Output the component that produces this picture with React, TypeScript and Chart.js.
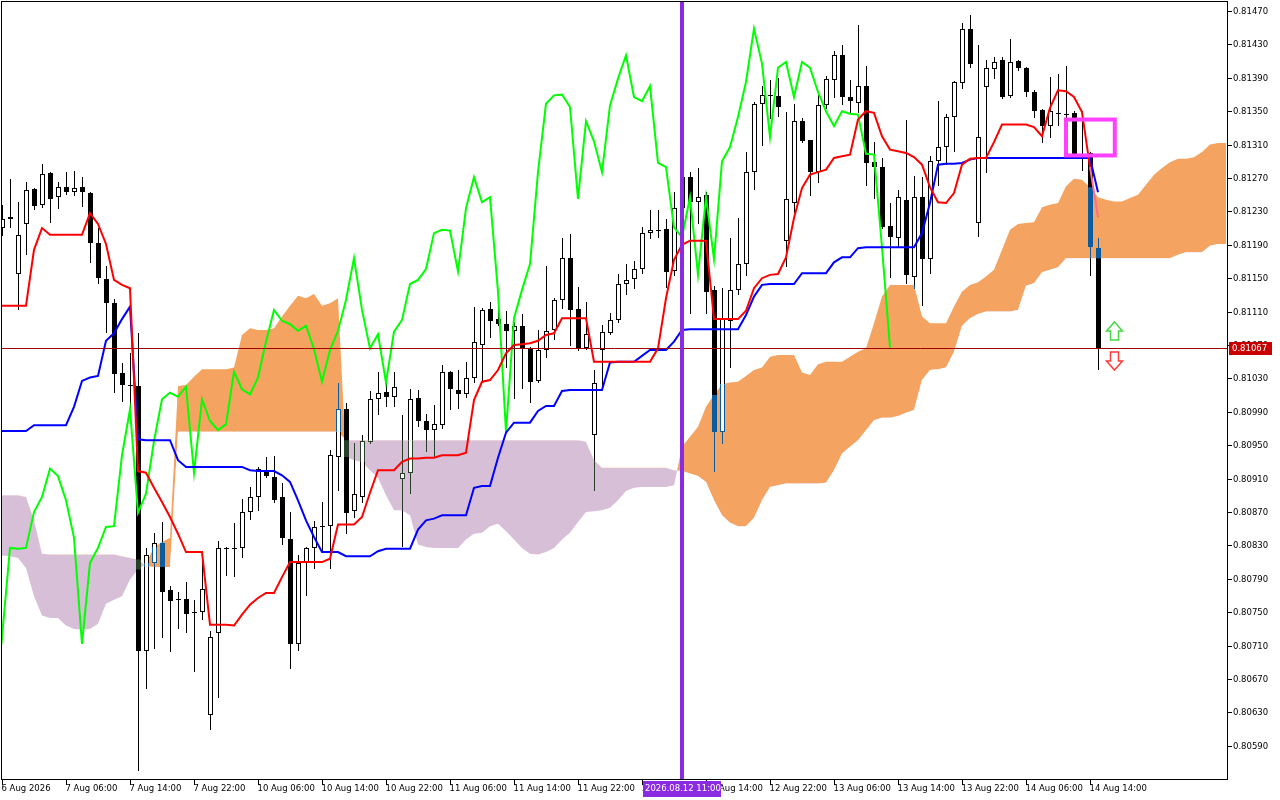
import { useEffect, useRef } from "react";
import { Chart, LineController, LineElement, PointElement, LinearScale, Filler } from "chart.js";

Chart.register(LineController, LineElement, PointElement, LinearScale, Filler);

// H1 bars, bar 0 = 6 Aug 2026 22:00
const opens = [
  0.81210, 0.81221, 0.81155, 0.81215, 0.81257, 0.81238, 0.81276, 0.81247, 0.81259, 0.81253,
  0.81259, 0.81252, 0.81192, 0.81149, 0.81120, 0.81036, 0.81022, 0.81021, 0.80704, 0.80809,
  0.80833, 0.80777, 0.80765, 0.80766, 0.80749, 0.80750, 0.80627, 0.80725, 0.80827, 0.80826,
  0.80827, 0.80870, 0.80888, 0.80920, 0.80912, 0.80888, 0.80838, 0.80712, 0.80809, 0.80827,
  0.80852, 0.80853, 0.80936, 0.80993, 0.80871, 0.80888, 0.80954, 0.81005, 0.81014, 0.81008,
  0.80910, 0.80917, 0.81007, 0.80979, 0.80968, 0.80974, 0.81038, 0.81016, 0.81011, 0.81031,
  0.81070, 0.81113, 0.81101, 0.81095, 0.81087, 0.81093, 0.81065, 0.81027, 0.81064, 0.81088,
  0.81124, 0.81174, 0.81113, 0.81066, 0.80962, 0.81064, 0.81084, 0.81100, 0.81143, 0.81149,
  0.81161, 0.81204, 0.81208, 0.81209, 0.81159, 0.81234, 0.81271, 0.81241, 0.81250, 0.81136,
  0.80966, 0.81099, 0.81136, 0.81167, 0.81277, 0.81359, 0.81369, 0.81368, 0.81195, 0.81240,
  0.81338, 0.81316, 0.81277, 0.81357, 0.81387, 0.81417, 0.81367, 0.81360, 0.81380, 0.81289,
  0.81283, 0.81213, 0.81198, 0.81244, 0.81152, 0.81247, 0.81173, 0.81290, 0.81307, 0.81343,
  0.81384, 0.81449, 0.81216, 0.81379, 0.81401, 0.81411, 0.81368, 0.81410, 0.81402, 0.81373,
  0.81351, 0.81332, 0.81348, 0.81347, 0.81348, 0.81299, 0.81300, 0.81186,
];
const highs = [
  0.81238, 0.81269, 0.81241, 0.81265, 0.81258, 0.81287, 0.81277, 0.81265, 0.81277, 0.81278,
  0.81271, 0.81253, 0.81210, 0.81165, 0.81125, 0.81049, 0.81060, 0.81084, 0.80827, 0.80845,
  0.80858, 0.80781, 0.80774, 0.80786, 0.80765, 0.80810, 0.80728, 0.80835, 0.80828, 0.80857,
  0.80886, 0.80900, 0.80924, 0.80936, 0.80937, 0.80905, 0.80870, 0.80819, 0.80828, 0.80859,
  0.80882, 0.80944, 0.81025, 0.81001, 0.80953, 0.80962, 0.81015, 0.81038, 0.81025, 0.81038,
  0.80986, 0.81017, 0.81016, 0.80987, 0.80998, 0.81046, 0.81039, 0.81040, 0.81050, 0.81116,
  0.81114, 0.81122, 0.81114, 0.81111, 0.81097, 0.81107, 0.81068, 0.81088, 0.81165, 0.81126,
  0.81198, 0.81203, 0.81140, 0.81122, 0.81040, 0.81094, 0.81108, 0.81155, 0.81167, 0.81171,
  0.81211, 0.81232, 0.81232, 0.81221, 0.81253, 0.81278, 0.81277, 0.81282, 0.81253, 0.81141,
  0.81138, 0.81198, 0.81222, 0.81301, 0.81361, 0.81380, 0.81387, 0.81390, 0.81349, 0.81359,
  0.81342, 0.81316, 0.81369, 0.81392, 0.81422, 0.81429, 0.81387, 0.81453, 0.81404, 0.81313,
  0.81294, 0.81240, 0.81256, 0.81339, 0.81272, 0.81271, 0.81296, 0.81362, 0.81347, 0.81386,
  0.81456, 0.81465, 0.81429, 0.81411, 0.81415, 0.81415, 0.81436, 0.81411, 0.81403, 0.81375,
  0.81353, 0.81391, 0.81395, 0.81404, 0.81350, 0.81350, 0.81301, 0.81198,
];
const lows = [
  0.81202, 0.81211, 0.81113, 0.81179, 0.81233, 0.81235, 0.81217, 0.81234, 0.81251, 0.81250,
  0.81237, 0.81169, 0.81144, 0.81086, 0.81014, 0.81003, 0.80995, 0.80561, 0.80659, 0.80707,
  0.80720, 0.80704, 0.80731, 0.80726, 0.80680, 0.80742, 0.80610, 0.80649, 0.80795, 0.80793,
  0.80816, 0.80862, 0.80872, 0.80912, 0.80882, 0.80832, 0.80683, 0.80705, 0.80771, 0.80803,
  0.80825, 0.80803, 0.80896, 0.80845, 0.80864, 0.80882, 0.80953, 0.80987, 0.80997, 0.80997,
  0.80829, 0.80893, 0.80973, 0.80943, 0.80936, 0.80971, 0.80993, 0.80995, 0.81008, 0.81026,
  0.81026, 0.81080, 0.81094, 0.81044, 0.81007, 0.81019, 0.81002, 0.81026, 0.81056, 0.81077,
  0.81114, 0.81070, 0.81064, 0.81065, 0.80896, 0.81020, 0.81083, 0.81097, 0.81131, 0.81138,
  0.81156, 0.81198, 0.81199, 0.81140, 0.81154, 0.81228, 0.81108, 0.81216, 0.81108, 0.80919,
  0.80953, 0.81044, 0.81131, 0.81154, 0.81257, 0.81310, 0.81342, 0.81344, 0.81165, 0.81229,
  0.81313, 0.81250, 0.81265, 0.81354, 0.81367, 0.81359, 0.81349, 0.81349, 0.81262, 0.81246,
  0.81210, 0.81152, 0.81187, 0.81144, 0.81138, 0.81118, 0.81156, 0.81262, 0.81287, 0.81302,
  0.81378, 0.81403, 0.81201, 0.81277, 0.81390, 0.81366, 0.81367, 0.81399, 0.81368, 0.81343,
  0.81313, 0.81319, 0.81334, 0.81336, 0.81298, 0.81280, 0.81154, 0.81041,
];
const closes = [
  0.81221, 0.81223, 0.81202, 0.81256, 0.81237, 0.81275, 0.81245, 0.81259, 0.81253, 0.81258,
  0.81253, 0.81192, 0.81150, 0.81120, 0.81035, 0.81022, 0.81021, 0.80704, 0.80819, 0.80833,
  0.80774, 0.80763, 0.80766, 0.80748, 0.80750, 0.80778, 0.80720, 0.80827, 0.80826, 0.80827,
  0.80870, 0.80888, 0.80922, 0.80913, 0.80884, 0.80839, 0.80712, 0.80809, 0.80827, 0.80852,
  0.80853, 0.80938, 0.80993, 0.80869, 0.80892, 0.80955, 0.81005, 0.81013, 0.81008, 0.81020,
  0.80917, 0.81005, 0.80979, 0.80968, 0.80975, 0.81038, 0.81017, 0.81011, 0.81031, 0.81074,
  0.81112, 0.81099, 0.81095, 0.81087, 0.81093, 0.81065, 0.81026, 0.81064, 0.81087, 0.81124,
  0.81174, 0.81112, 0.81066, 0.81083, 0.81025, 0.81086, 0.81100, 0.81143, 0.81148, 0.81161,
  0.81204, 0.81208, 0.81207, 0.81158, 0.81234, 0.81271, 0.81241, 0.81247, 0.81134, 0.80966,
  0.81102, 0.81136, 0.81167, 0.81277, 0.81359, 0.81369, 0.81370, 0.81355, 0.81245, 0.81338,
  0.81314, 0.81277, 0.81357, 0.81389, 0.81417, 0.81367, 0.81362, 0.81380, 0.81288, 0.81283,
  0.81211, 0.81199, 0.81247, 0.81154, 0.81247, 0.81173, 0.81290, 0.81307, 0.81343, 0.81385,
  0.81449, 0.81407, 0.81319, 0.81402, 0.81409, 0.81367, 0.81409, 0.81402, 0.81373, 0.81350,
  0.81332, 0.81350, 0.81347, 0.81346, 0.81299, 0.81298, 0.81187, 0.81067,
];

// Ichimoku lines
const tenkan = [
  0.81117, 0.81117, 0.81117, 0.81117, 0.81184, 0.81210, 0.81202, 0.81202, 0.81202, 0.81202,
  0.81202, 0.81228, 0.81215, 0.81191, 0.81148, 0.81142, 0.81138, 0.80919, 0.80917, 0.80899,
  0.80882, 0.80864, 0.80844, 0.80822, 0.80822, 0.80822, 0.80735, 0.80735, 0.80735, 0.80734,
  0.80747, 0.80759, 0.80767, 0.80773, 0.80773, 0.80792, 0.80810, 0.80810, 0.80810, 0.80810,
  0.80810, 0.80814, 0.80855, 0.80855, 0.80855, 0.80864, 0.80893, 0.80920, 0.80920, 0.80920,
  0.80930, 0.80934, 0.80934, 0.80935, 0.80935, 0.80938, 0.80938, 0.80938, 0.80941, 0.81004,
  0.81026, 0.81028, 0.81040, 0.81060, 0.81070, 0.81071, 0.81072, 0.81075, 0.81082, 0.81084,
  0.81102, 0.81102, 0.81102, 0.81102, 0.81050, 0.81050, 0.81050, 0.81050, 0.81050, 0.81050,
  0.81050, 0.81050, 0.81066, 0.81126, 0.81172, 0.81190, 0.81195, 0.81195, 0.81195, 0.81101,
  0.81101, 0.81101, 0.81101, 0.81111, 0.81138, 0.81150, 0.81154, 0.81155, 0.81175, 0.81222,
  0.81258, 0.81274, 0.81277, 0.81280, 0.81294, 0.81296, 0.81298, 0.81340, 0.81350, 0.81348,
  0.81320, 0.81304, 0.81302, 0.81300, 0.81295, 0.81286, 0.81259, 0.81241, 0.81240, 0.81252,
  0.81286, 0.81293, 0.81294, 0.81294, 0.81313, 0.81334, 0.81334, 0.81334, 0.81334, 0.81331,
  0.81320, 0.81354, 0.81375, 0.81374, 0.81367, 0.81349, 0.81283, 0.81223,
];
const kijun = [
  0.80967, 0.80967, 0.80967, 0.80967, 0.80974, 0.80974, 0.80974, 0.80974, 0.80974, 0.80996,
  0.81027, 0.81031, 0.81033, 0.81075, 0.81084, 0.81101, 0.81116, 0.80957, 0.80956, 0.80956,
  0.80956, 0.80956, 0.80932, 0.80924, 0.80924, 0.80924, 0.80924, 0.80924, 0.80924, 0.80924,
  0.80924, 0.80920, 0.80919, 0.80919, 0.80919, 0.80914, 0.80906, 0.80884, 0.80860, 0.80840,
  0.80822, 0.80822, 0.80822, 0.80817, 0.80817, 0.80817, 0.80817, 0.80823, 0.80826, 0.80826,
  0.80826, 0.80826, 0.80849, 0.80860, 0.80862, 0.80866, 0.80866, 0.80866, 0.80866, 0.80899,
  0.80901, 0.80901, 0.80935, 0.80965, 0.80977, 0.80977, 0.80977, 0.80991, 0.80997, 0.80997,
  0.81015, 0.81016, 0.81016, 0.81016, 0.81016, 0.81016, 0.81049, 0.81050, 0.81050, 0.81050,
  0.81057, 0.81064, 0.81064, 0.81064, 0.81074, 0.81088, 0.81089, 0.81089, 0.81089, 0.81089,
  0.81089, 0.81089, 0.81089, 0.81106, 0.81128, 0.81142, 0.81143, 0.81143, 0.81143, 0.81143,
  0.81156, 0.81156, 0.81156, 0.81156, 0.81169, 0.81175, 0.81175, 0.81186, 0.81187, 0.81187,
  0.81187, 0.81187, 0.81187, 0.81187, 0.81187, 0.81204, 0.81240, 0.81286, 0.81287, 0.81287,
  0.81288, 0.81292, 0.81294, 0.81294, 0.81294, 0.81294, 0.81294, 0.81294, 0.81294, 0.81294,
  0.81294, 0.81294, 0.81294, 0.81294, 0.81294, 0.81294, 0.81294, 0.81253,
];
// cloud spans, already shifted 26 bars ahead (bars 0..153)
const senkouA = [
  0.80818, 0.80817, 0.80815, 0.80803, 0.80769, 0.80746, 0.80743, 0.80743, 0.80734, 0.80730,
  0.80729, 0.80730, 0.80736, 0.80760, 0.80765, 0.80769, 0.80789, 0.80801, 0.80808, 0.80828,
  0.80834, 0.80839, 0.81021, 0.81022, 0.81032, 0.81041, 0.81041, 0.81041, 0.81041, 0.81043,
  0.81082, 0.81090, 0.81088, 0.81088, 0.81090, 0.81104, 0.81117, 0.81129, 0.81126, 0.81131,
  0.81117, 0.81120, 0.81126, 0.80936, 0.80932, 0.80930, 0.80920, 0.80911, 0.80890, 0.80872,
  0.80872, 0.80866, 0.80831, 0.80828, 0.80827, 0.80827, 0.80827, 0.80827, 0.80837, 0.80844,
  0.80845, 0.80853, 0.80856, 0.80847, 0.80837, 0.80827, 0.80820, 0.80819, 0.80822, 0.80827,
  0.80837, 0.80845, 0.80858, 0.80870, 0.80871, 0.80872, 0.80875, 0.80884, 0.80895, 0.80899,
  0.80900, 0.80900, 0.80900, 0.80900, 0.80902, 0.80948, 0.80960, 0.80972, 0.80996, 0.81010,
  0.81023, 0.81025, 0.81026, 0.81033, 0.81040, 0.81043, 0.81056, 0.81058, 0.81058, 0.81058,
  0.81037, 0.81034, 0.81047, 0.81050, 0.81050, 0.81050, 0.81056, 0.81062, 0.81066, 0.81096,
  0.81128, 0.81142, 0.81142, 0.81142, 0.81142, 0.81104, 0.81096, 0.81096, 0.81096, 0.81116,
  0.81134, 0.81142, 0.81145, 0.81152, 0.81160, 0.81184, 0.81208, 0.81215, 0.81216, 0.81217,
  0.81235, 0.81238, 0.81240, 0.81260, 0.81269, 0.81268, 0.81259, 0.81247, 0.81244, 0.81242,
  0.81242, 0.81246, 0.81250, 0.81262, 0.81274, 0.81282, 0.81289, 0.81293, 0.81293, 0.81295,
  0.81301, 0.81310, 0.81312, 0.81312,
];
const senkouB = [
  0.80890, 0.80890, 0.80890, 0.80888, 0.80860, 0.80820, 0.80819, 0.80819, 0.80819, 0.80819,
  0.80819, 0.80819, 0.80819, 0.80819, 0.80819, 0.80817, 0.80815, 0.80813, 0.80805, 0.80804,
  0.80804, 0.80804, 0.80966, 0.80966, 0.80966, 0.80966, 0.80966, 0.80966, 0.80966, 0.80966,
  0.80966, 0.80966, 0.80966, 0.80966, 0.80966, 0.80966, 0.80966, 0.80966, 0.80966, 0.80966,
  0.80966, 0.80966, 0.80966, 0.80956, 0.80956, 0.80956, 0.80956, 0.80956, 0.80956, 0.80956,
  0.80956, 0.80956, 0.80956, 0.80956, 0.80956, 0.80956, 0.80956, 0.80956, 0.80956, 0.80956,
  0.80956, 0.80956, 0.80956, 0.80956, 0.80956, 0.80956, 0.80956, 0.80956, 0.80956, 0.80956,
  0.80956, 0.80956, 0.80956, 0.80954, 0.80932, 0.80923, 0.80923, 0.80923, 0.80923, 0.80923,
  0.80923, 0.80923, 0.80923, 0.80923, 0.80920, 0.80919, 0.80916, 0.80913, 0.80906, 0.80884,
  0.80866, 0.80857, 0.80853, 0.80853, 0.80863, 0.80884, 0.80900, 0.80902, 0.80904, 0.80904,
  0.80904, 0.80904, 0.80904, 0.80905, 0.80920, 0.80940, 0.80948, 0.80956, 0.80968, 0.80980,
  0.80983, 0.80983, 0.80985, 0.80989, 0.80992, 0.81028, 0.81040, 0.81041, 0.81043, 0.81062,
  0.81093, 0.81102, 0.81107, 0.81110, 0.81110, 0.81110, 0.81110, 0.81112, 0.81141, 0.81144,
  0.81157, 0.81160, 0.81163, 0.81174, 0.81174, 0.81174, 0.81174, 0.81174, 0.81174, 0.81174,
  0.81174, 0.81174, 0.81174, 0.81174, 0.81174, 0.81174, 0.81174, 0.81178, 0.81181, 0.81181,
  0.81181, 0.81189, 0.81191, 0.81191,
];
const CHIKOU_SHIFT = 26;

const timeTickBars = [0, 8, 16, 24, 32, 40, 48, 56, 64, 72, 80, 88, 96, 104, 112, 120, 128, 136];
const timeTickLabels = [
  "6 Aug 2026", "7 Aug 06:00", "7 Aug 14:00", "7 Aug 22:00", "10 Aug 06:00", "10 Aug 14:00",
  "10 Aug 22:00", "11 Aug 06:00", "11 Aug 14:00", "11 Aug 22:00", "12 Aug 06:00", "12 Aug 14:00",
  "12 Aug 22:00", "13 Aug 06:00", "13 Aug 14:00", "13 Aug 22:00", "14 Aug 06:00", "14 Aug 14:00",
];
const priceTicks = [
  0.8147, 0.8143, 0.8139, 0.8135, 0.8131, 0.8127, 0.8123, 0.8119, 0.8115, 0.8111, 0.8107, 0.8103,
  0.8099, 0.8095, 0.8091, 0.8087, 0.8083, 0.8079, 0.8075, 0.8071, 0.8067, 0.8063, 0.8059,
];

// chart objects
const eventBar = 85;
const eventLabel = "2026.08.12 11:00";
const boxBars = [133, 139.1];
const boxPrices = [0.8134, 0.81297];
const arrowBar = 139;
const upArrowPrice = 0.81098;
const downArrowPrice = 0.8104;

const FONT = "8.5px 'DejaVu Sans'";

function paintBar(
  ctx: CanvasRenderingContext2D,
  cx: number,
  o: number,
  h: number,
  l: number,
  c: number,
  bull: boolean,
  ink: string
) {
  ctx.strokeStyle = ink;
  ctx.fillStyle = ink;
  ctx.lineWidth = 1;
  ctx.beginPath();
  ctx.moveTo(cx, Math.round(h));
  ctx.lineTo(cx, Math.round(l) + 1);
  ctx.stroke();
  const top = Math.round(Math.min(o, c));
  const hgt = Math.round(Math.max(o, c)) - top;
  if (hgt <= 1) {
    ctx.fillRect(cx - 2.5, top, 5, 1);
    return;
  }
  if (bull) {
    ctx.fillStyle = "#ffffff";
    ctx.fillRect(cx - 2.5, top, 5, hgt);
    ctx.strokeRect(cx - 2, top + 0.5, 4, hgt - 1);
  } else {
    ctx.fillRect(cx - 2.5, top, 5, hgt);
  }
}

function blockArrow(ctx: CanvasRenderingContext2D, cx: number, tipY: number, up: boolean, color: string) {
  const s = up ? 1 : -1;
  const hw = 8, hh = 9, sw = 4, len = 18;
  ctx.beginPath();
  ctx.moveTo(cx, tipY);
  ctx.lineTo(cx + hw, tipY + s * hh);
  ctx.lineTo(cx + sw, tipY + s * hh);
  ctx.lineTo(cx + sw, tipY + s * len);
  ctx.lineTo(cx - sw, tipY + s * len);
  ctx.lineTo(cx - sw, tipY + s * hh);
  ctx.lineTo(cx - hw, tipY + s * hh);
  ctx.closePath();
  ctx.fillStyle = "#ffffff";
  ctx.fill();
  ctx.strokeStyle = color;
  ctx.lineWidth = 1.5;
  ctx.stroke();
}

const mt4Plugin = {
  id: "mt4",
  beforeDatasetDraw(chart: any, args: any) {
    // candles go under the three Ichimoku lines
    if (args.index !== 2) return;
    const { ctx, chartArea: a } = chart;
    const xs = chart.scales.x;
    const ys = chart.scales.y;
    ctx.save();
    ctx.beginPath();
    ctx.rect(a.left, a.top, a.right - a.left, a.bottom - a.top);
    ctx.clip();
    closes.forEach((c, i) => {
      const cx = Math.round(xs.getPixelForValue(i)) + 0.5;
      const o = ys.getPixelForValue(opens[i]);
      const h = ys.getPixelForValue(highs[i]);
      const l = ys.getPixelForValue(lows[i]);
      const cy = ys.getPixelForValue(c);
      const bull = c >= opens[i];
      paintBar(ctx, cx, o, h, l, cy, bull, "#000000");
      const ya = ys.getPixelForValue(senkouA[i]);
      const yb = ys.getPixelForValue(senkouB[i]);
      ctx.save();
      ctx.beginPath();
      ctx.rect(cx - 4, Math.min(ya, yb), 8, Math.abs(ya - yb));
      ctx.clip();
      paintBar(ctx, cx, o, h, l, cy, bull, senkouA[i] >= senkouB[i] ? "#0b5b9f" : "#274027");
      ctx.restore();
    });
    ctx.restore();
  },
  afterDatasetsDraw(chart: any) {
    const { ctx, chartArea: a } = chart;
    const xs = chart.scales.x;
    const ys = chart.scales.y;
    ctx.save();
    ctx.beginPath();
    ctx.rect(a.left, a.top, a.right - a.left, a.bottom - a.top);
    ctx.clip();

    // bid line
    const py = Math.round(ys.getPixelForValue(closes[closes.length - 1])) + 0.5;
    ctx.strokeStyle = "#a00000";
    ctx.lineWidth = 1;
    ctx.beginPath();
    ctx.moveTo(a.left, py);
    ctx.lineTo(a.right, py);
    ctx.stroke();

    // rectangle object
    const bx0 = xs.getPixelForValue(boxBars[0]);
    const bx1 = xs.getPixelForValue(boxBars[1]);
    const by0 = ys.getPixelForValue(boxPrices[0]);
    const by1 = ys.getPixelForValue(boxPrices[1]);
    ctx.strokeStyle = "#ff40ff";
    ctx.lineWidth = 4;
    ctx.strokeRect(bx0, by0, bx1 - bx0, by1 - by0);

    // arrows
    const ax = Math.round(xs.getPixelForValue(arrowBar)) + 0.5;
    blockArrow(ctx, ax, Math.round(ys.getPixelForValue(upArrowPrice)), true, "#44d844");
    blockArrow(ctx, ax, Math.round(ys.getPixelForValue(downArrowPrice)), false, "#ff3a3a");

    // vertical line
    const ex = xs.getPixelForValue(eventBar);
    ctx.strokeStyle = "#8a2be2";
    ctx.lineWidth = 4;
    ctx.beginPath();
    ctx.moveTo(ex, a.top);
    ctx.lineTo(ex, a.bottom);
    ctx.stroke();
    ctx.restore();
  },
  afterDraw(chart: any) {
    const { ctx, chartArea: a } = chart;
    const xs = chart.scales.x;
    const ys = chart.scales.y;
    ctx.save();
    ctx.strokeStyle = "#000000";
    ctx.lineWidth = 1;
    ctx.strokeRect(a.left - 0.5, a.top - 0.5, a.right - a.left + 1, a.bottom - a.top + 1);

    ctx.font = FONT;
    ctx.textBaseline = "middle";
    ctx.textAlign = "left";
    ctx.fillStyle = "#000000";
    priceTicks.forEach((p) => {
      const y = Math.round(ys.getPixelForValue(p)) + 0.5;
      ctx.beginPath();
      ctx.moveTo(a.right, y);
      ctx.lineTo(a.right + 5, y);
      ctx.stroke();
      ctx.fillText(p.toFixed(5), a.right + 6, y);
    });
    timeTickBars.forEach((b, k) => {
      const x = Math.round(xs.getPixelForValue(b)) + 0.5;
      ctx.beginPath();
      ctx.moveTo(x, a.bottom);
      ctx.lineTo(x, a.bottom + 6);
      ctx.stroke();
      ctx.fillText(timeTickLabels[k], x - 1, a.bottom + 10);
    });

    // bid label
    const last = closes[closes.length - 1];
    const py = Math.round(ys.getPixelForValue(last));
    ctx.fillStyle = "#c80000";
    ctx.fillRect(a.right + 2, py - 6, 43, 13);
    ctx.fillStyle = "#ffffff";
    ctx.fillText(last.toFixed(5), a.right + 5, py + 0.5);

    // vertical line time label
    const ex = xs.getPixelForValue(eventBar);
    ctx.fillStyle = "#8a2be2";
    ctx.fillRect(ex - 39, a.bottom + 2, 78, 16);
    ctx.fillStyle = "#ffffff";
    ctx.fillText(eventLabel, ex - 37, a.bottom + 10);
    ctx.restore();
  },
};

export default function App() {
  const canvasRef = useRef<HTMLCanvasElement>(null);
  const chartRef = useRef<Chart | null>(null);

  useEffect(() => {
    if (!canvasRef.current) return;
    const config: any = {
      type: "line",
      data: {
        datasets: [
          {
            label: "Senkou Span A",
            data: senkouA.map((v, i) => ({ x: i, y: v })),
            borderColor: "transparent",
            borderWidth: 0,
            pointRadius: 0,
            fill: { target: "+1", above: "#f4a460", below: "#d8bfd8" },
            order: 6,
          },
          {
            label: "Senkou Span B",
            data: senkouB.map((v, i) => ({ x: i, y: v })),
            borderColor: "transparent",
            borderWidth: 0,
            pointRadius: 0,
            fill: false,
            order: 5,
          },
          {
            label: "Chikou Span",
            data: closes.map((v, i) => ({ x: i - CHIKOU_SHIFT, y: v })),
            borderColor: "#00ff00",
            borderWidth: 2,
            pointRadius: 0,
            fill: false,
            order: 3,
          },
          {
            label: "Kijun-sen",
            data: kijun.map((v, i) => ({ x: i, y: v })),
            borderColor: "#0000ff",
            borderWidth: 2,
            pointRadius: 0,
            fill: false,
            order: 2,
          },
          {
            label: "Tenkan-sen",
            data: tenkan.map((v, i) => ({ x: i, y: v })),
            borderColor: "#ff0000",
            borderWidth: 2,
            pointRadius: 0,
            fill: false,
            order: 1,
            segment: {
              borderColor: (c: any) => (c.p1DataIndex === tenkan.length - 1 ? "#ff6e8a" : undefined),
            },
          },
        ],
      },
      options: {
        animation: false,
        responsive: true,
        maintainAspectRatio: false,
        devicePixelRatio: 1,
        events: [],
        layout: { padding: { left: 2, top: 2, right: 53, bottom: 21 } },
        scales: {
          x: { type: "linear", min: 0, max: 153.125, display: false },
          y: { type: "linear", min: 0.805502, max: 0.814808, display: false },
        },
        plugins: { legend: { display: false }, tooltip: { enabled: false } },
        elements: { line: { tension: 0 } },
      },
      plugins: [mt4Plugin],
    };
    chartRef.current = new Chart(canvasRef.current, config);
    return () => {
      chartRef.current?.destroy();
      chartRef.current = null;
    };
  }, []);

  return (
    <div style={{ position: "fixed", left: 0, top: 0, width: 1280, height: 800, background: "#ffffff" }}>
      <canvas ref={canvasRef} />
    </div>
  );
}
